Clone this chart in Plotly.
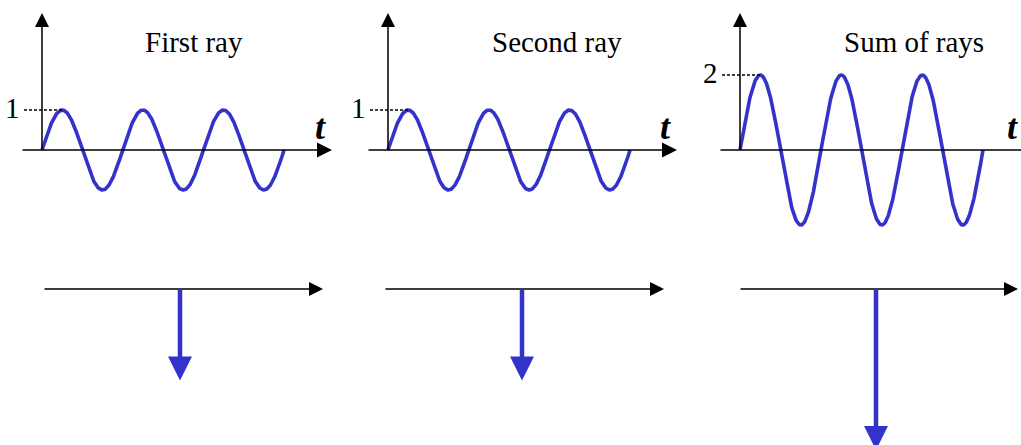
import numpy as np
import plotly.graph_objects as go

# ---------------- data ----------------
titles = ["First ray", "Second ray", "Sum of rays"]
amplitudes = [1, 1, 2]            # peak value of each wave / length of each phasor
peak_labels = ["1", "1", "2"]
n_cycles = 3                       # cycles drawn in each wave
axis_label = "t"

# ---------------- layout (pixels) ----------------
W, H = 1021, 445
BLUE = "#3333CC"
origin_px = [42, 388, 740]         # x pixel of t = 0
period_px = [80.7, 80.7, 81.0]     # pixels per cycle
unit_px = [40.0, 40.0, 37.5]       # pixels per amplitude unit (top)
zero_y_px = 150                    # y pixel of the t axis
panel_px = [(0, 342), (345, 700), (700, 1021)]
top_dom_px = (0, 240)
bot_dom_px = (250, 445)
bot_zero_px = 289
bot_unit_px = 69.5
title_dx = [152, 169, 174]
axis_start_dx = [-20, -20, -20]
axis_end_dx = [290, 289, 300]
bot_start_dx = [2, -3, 0]
bot_end_dx = [281, 276, 278]
vec_dx = [138, 134, 136]
tlabel_dx = [278, 277, 272]

fig = go.Figure()

def xdata(k, px):
    return (px - origin_px[k]) / period_px[k]

def ytop(k, px):
    return (zero_y_px - px) / unit_px[k]

def ybot(px):
    return (bot_zero_px - px) / bot_unit_px

annotations = []
shapes = []

def arrow(xr, yr, x0, y0, x1, y1, color, width, headpx):
    scale = headpx / 5.0
    annotations.append(dict(
        xref=xr, yref=yr, axref=xr, ayref=yr,
        x=x1, y=y1, ax=x0, ay=y0, text="", showarrow=True,
        arrowhead=2, arrowwidth=width, arrowsize=scale / width,
        arrowcolor=color, standoff=0, borderpad=0,
    ))

for k in range(3):
    xa = "x" if k == 0 else f"x{2*k+1}"
    ya = "y" if k == 0 else f"y{2*k+1}"
    xb = f"x{2*k+2}"
    yb = f"y{2*k+2}"
    L, R = panel_px[k]
    xr = [xdata(k, L), xdata(k, R)]
    dom = [L / W, R / W]
    # top axes
    fig.layout[("xaxis" if k == 0 else f"xaxis{2*k+1}")] = dict(
        domain=dom, range=xr, visible=False, fixedrange=True, anchor=ya)
    fig.layout[("yaxis" if k == 0 else f"yaxis{2*k+1}")] = dict(
        domain=[1 - top_dom_px[1] / H, 1 - top_dom_px[0] / H],
        range=[ytop(k, top_dom_px[1]), ytop(k, top_dom_px[0])],
        visible=False, fixedrange=True, anchor=xa)
    # bottom axes
    fig.layout[f"xaxis{2*k+2}"] = dict(domain=dom, range=xr, visible=False,
                                       fixedrange=True, anchor=yb)
    fig.layout[f"yaxis{2*k+2}"] = dict(
        domain=[1 - bot_dom_px[1] / H, 1 - bot_dom_px[0] / H],
        range=[ybot(bot_dom_px[1]), ybot(bot_dom_px[0])],
        visible=False, fixedrange=True, anchor=xb)

    A = amplitudes[k]
    t = np.linspace(0, n_cycles, 600)
    fig.add_trace(go.Scatter(x=t, y=A * np.sin(2 * np.pi * t), mode="lines",
                             line=dict(color=BLUE, width=3.6),
                             xaxis=xa, yaxis=ya, hoverinfo="skip"))

    ox = origin_px[k]
    # t axis
    arrow(xa, ya, xdata(k, ox + axis_start_dx[k]), 0,
          xdata(k, ox + axis_end_dx[k]), 0, "black", 1.5, 15)
    # vertical axis
    arrow(xa, ya, 0, 0, 0, ytop(k, 13), "black", 1.5, 14)
    # dashed guide to the peak
    shapes.append(dict(type="line", xref=xa, yref=ya,
                       x0=xdata(k, ox - 18), x1=0.25, y0=A, y1=A,
                       line=dict(color="black", width=1.4, dash="3px,2px")))
    annotations.append(dict(xref=xa, yref=ya, x=xdata(k, ox - 20), y=A,
                            text=peak_labels[k], showarrow=False,
                            xanchor="right", yanchor="middle", yshift=2,
                            font=dict(family="Liberation Serif", size=29, color="black")))
    annotations.append(dict(xref=xa, yref=ya, x=xdata(k, ox + tlabel_dx[k]), y=ytop(k, 127),
                            text=f"<i><b>{axis_label}</b></i>", showarrow=False,
                            xanchor="center", yanchor="middle",
                            font=dict(family="Liberation Serif", size=36, color="black")))
    annotations.append(dict(xref=xa, yref=ya, x=xdata(k, ox + title_dx[k]), y=ytop(k, 42),
                            text=titles[k], showarrow=False,
                            xanchor="center", yanchor="middle",
                            font=dict(family="Liberation Serif", size=29, color="black")))
    # bottom: phasor
    arrow(xb, yb, xdata(k, ox + bot_start_dx[k]), 0,
          xdata(k, ox + bot_end_dx[k]), 0, "black", 1.5, 14)
    arrow(xb, yb, xdata(k, ox + vec_dx[k]), 0,
          xdata(k, ox + vec_dx[k]), -A - 22 / bot_unit_px, BLUE, 4.5, 24)

fig.update_layout(width=W, height=H, margin=dict(l=0, r=0, t=0, b=0),
                  paper_bgcolor="white", plot_bgcolor="white",
                  showlegend=False, annotations=annotations, shapes=shapes)
fig.write_html("out.html", config={"displayModeBar": False},
               post_script="document.body.style.margin='0';document.body.style.padding='0';")
